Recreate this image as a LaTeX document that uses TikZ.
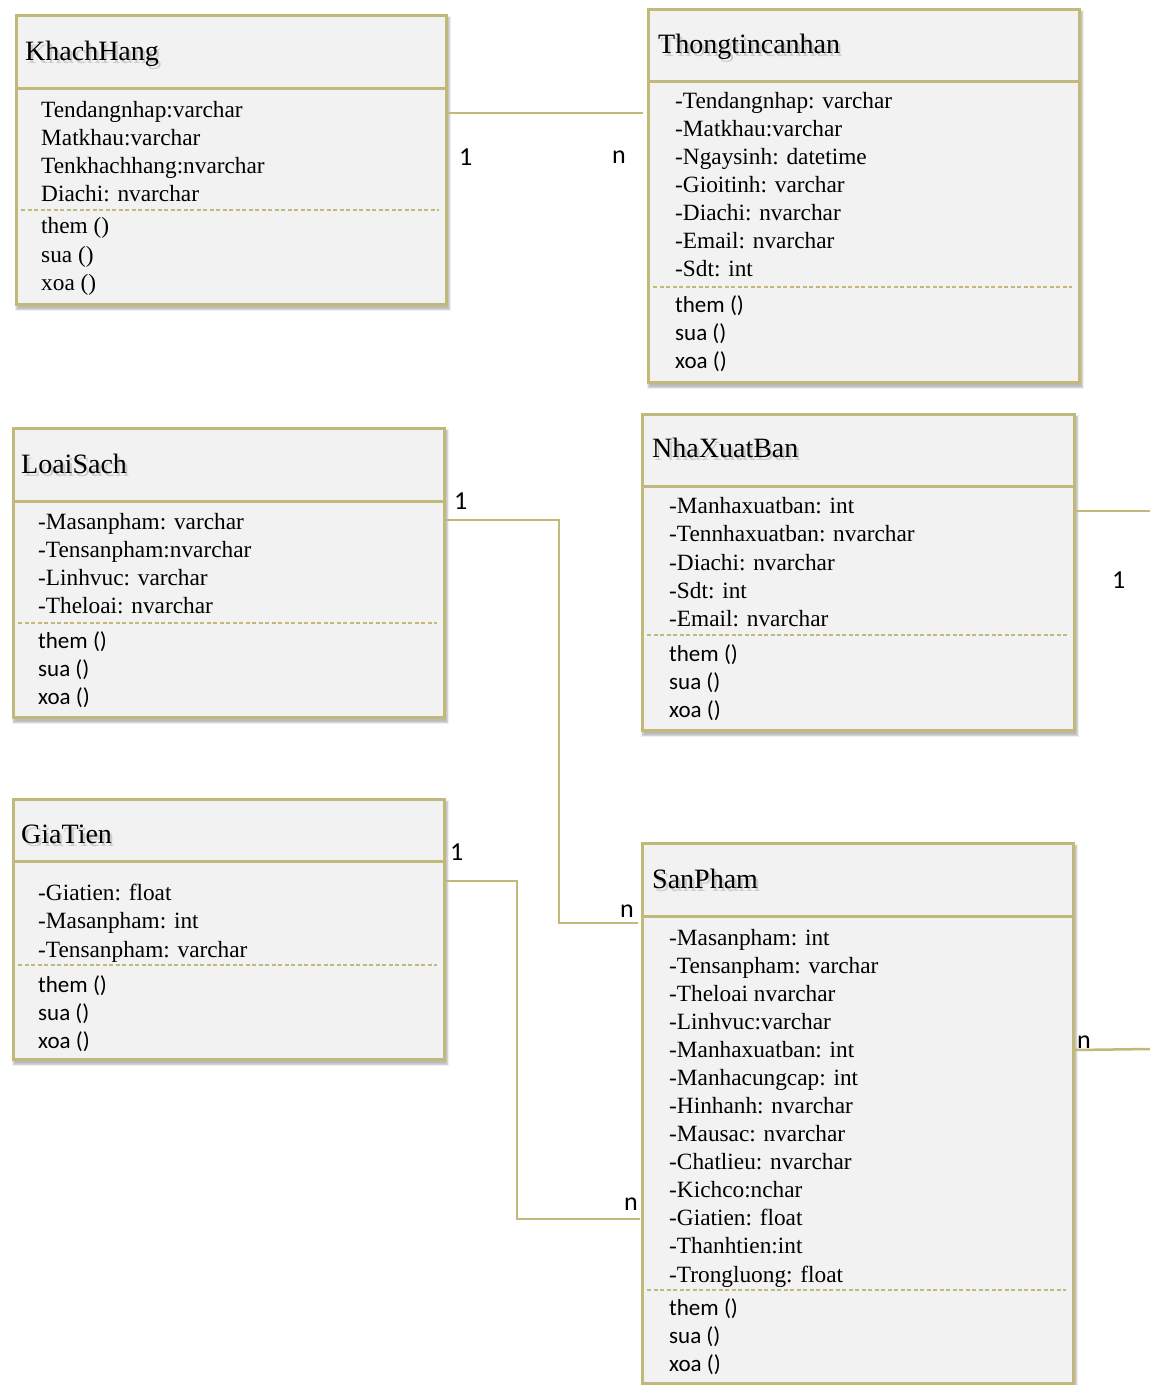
\documentclass[tikz,border=0pt]{standalone}
\usepackage{fontspec}
\setmainfont{Liberation Serif}
\newfontfamily\methodfont{Carlito}
\usetikzlibrary{calc}

\definecolor{umlborder}{RGB}{192,185,122}
\definecolor{umlfill}{RGB}{242,242,242}
\definecolor{titleshade}{RGB}{205,205,205}

\tikzset{
  classbox/.style={draw=umlborder, fill=umlfill, line width=3pt, rectangle,
    inner sep=0pt, anchor=north west},
  sepline/.style={draw=umlborder, line width=3pt},
  dashsep/.style={draw=umlborder, line width=1.7pt, dash pattern=on 4pt off 2.5pt},
  classtitle/.style={anchor=base west, inner sep=0pt, font=\fontsize{28}{32}\selectfont},
  attr/.style={anchor=base west, inner sep=0pt, font=\fontsize{23.3}{28}\selectfont},
  meth/.style={anchor=base west, inner sep=0pt, font=\methodfont\fontsize{23}{28}\selectfont},
  mult/.style={anchor=base west, inner sep=0pt, font=\methodfont\fontsize{26}{30}\selectfont},
  conn/.style={draw=umlborder, line width=2.5pt},
}

% class box: name, x, y, width, height, header line y, dashed line y
\newcommand\umlclass[7]{%
  \foreach \s in {0,1,2,3,4}{%
    \fill[black, opacity=0.06] (#2+3-\s*0.8, #3+5-\s*0.8) rectangle (#2+#4+3+\s*0.8, #3+#5+5+\s*0.8);
  }
  \node[classbox, minimum width=#4, minimum height=#5] (#1) at (#2,#3) {};
  \draw[sepline] (#2,#6) -- (#2+#4,#6);
  \draw[dashsep] (#2+6,#7) -- (#2+#4-6,#7);
}

% class title, set over a soft grey copy of itself
\newcommand\umltitle[4]{%
  \node[classtitle] (#1-t) at (#2,#3)
    {\makebox[0pt][l]{\hspace*{2.5pt}\raisebox{-3pt}{\textcolor{titleshade}{#4}}}#4};
}

\begin{document}
\begin{tikzpicture}[x=1pt, y=-1pt]
\fill[white] (0,0) rectangle (1150,1385);
\useasboundingbox (0,0) rectangle (1150,1385);

% ---------------- KhachHang ----------------
\umlclass{kh}{15}{14}{430}{289}{88}{210}
\umltitle{kh}{25}{60}{KhachHang}
\node[attr] (kh-a1) at (41,117) {Tendangnhap:varchar};
\node[attr] (kh-a2) at (41,145) {Matkhau:varchar};
\node[attr] (kh-a3) at (41,173) {Tenkhachhang:nvarchar};
\node[attr] (kh-a4) at (41,201) {Diachi: nvarchar};
\node[attr] (kh-m1) at (41,233) {them ()};
\node[attr] (kh-m2) at (41,262) {sua ()};
\node[attr] (kh-m3) at (41,290) {xoa ()};

% ---------------- Thongtincanhan ----------------
\umlclass{tt}{647}{8}{431}{373}{81}{287}
\umltitle{tt}{658}{53}{Thongtincanhan}
\node[attr] (tt-a1) at (675,108) {-Tendangnhap: varchar};
\node[attr] (tt-a2) at (675,136) {-Matkhau:varchar};
\node[attr] (tt-a3) at (675,164) {-Ngaysinh: datetime};
\node[attr] (tt-a4) at (675,192) {-Gioitinh: varchar};
\node[attr] (tt-a5) at (675,220) {-Diachi: nvarchar};
\node[attr] (tt-a6) at (675,248) {-Email: nvarchar};
\node[attr] (tt-a7) at (675,276) {-Sdt: int};
\node[meth] (tt-m1) at (675,312) {them ()};
\node[meth] (tt-m2) at (675,340) {sua ()};
\node[meth] (tt-m3) at (675,368) {xoa ()};

% ---------------- LoaiSach ----------------
\umlclass{ls}{12}{427}{431}{289}{501}{623}
\umltitle{ls}{21}{473}{LoaiSach}
\node[attr] (ls-a1) at (38,529) {-Masanpham: varchar};
\node[attr] (ls-a2) at (38,557) {-Tensanpham:nvarchar};
\node[attr] (ls-a3) at (38,585) {-Linhvuc: varchar};
\node[attr] (ls-a4) at (38,613) {-Theloai: nvarchar};
\node[meth] (ls-m1) at (38,648) {them ()};
\node[meth] (ls-m2) at (38,676) {sua ()};
\node[meth] (ls-m3) at (38,704) {xoa ()};

% ---------------- NhaXuatBan ----------------
\umlclass{nxb}{641}{413}{432}{316}{486}{635}
\umltitle{nxb}{652}{457}{NhaXuatBan}
\node[attr] (nxb-a1) at (669,513) {-Manhaxuatban: int};
\node[attr] (nxb-a2) at (669,541) {-Tennhaxuatban: nvarchar};
\node[attr] (nxb-a3) at (669,570) {-Diachi: nvarchar};
\node[attr] (nxb-a4) at (669,598) {-Sdt: int};
\node[attr] (nxb-a5) at (669,626) {-Email: nvarchar};
\node[meth] (nxb-m1) at (669,661) {them ()};
\node[meth] (nxb-m2) at (669,689) {sua ()};
\node[meth] (nxb-m3) at (669,717) {xoa ()};

% ---------------- GiaTien ----------------
\umlclass{gt}{12}{798}{431}{260}{861}{965}
\umltitle{gt}{21}{843}{GiaTien}
\node[attr] (gt-a1) at (38,900) {-Giatien: float};
\node[attr] (gt-a2) at (38,928) {-Masanpham: int};
\node[attr] (gt-a3) at (38,957) {-Tensanpham: varchar};
\node[meth] (gt-m1) at (38,992) {them ()};
\node[meth] (gt-m2) at (38,1020) {sua ()};
\node[meth] (gt-m3) at (38,1048) {xoa ()};

% ---------------- SanPham ----------------
\umlclass{sp}{641}{842}{431}{540}{916}{1290}
\umltitle{sp}{652}{888}{SanPham}
\node[attr] (sp-a1)  at (669,945)  {-Masanpham: int};
\node[attr] (sp-a2)  at (669,973)  {-Tensanpham: varchar};
\node[attr] (sp-a3)  at (669,1001) {-Theloai nvarchar};
\node[attr] (sp-a4)  at (669,1029) {-Linhvuc:varchar};
\node[attr] (sp-a5)  at (669,1057) {-Manhaxuatban: int};
\node[attr] (sp-a6)  at (669,1085) {-Manhacungcap: int};
\node[attr] (sp-a7)  at (669,1113) {-Hinhanh: nvarchar};
\node[attr] (sp-a8)  at (669,1141) {-Mausac: nvarchar};
\node[attr] (sp-a9)  at (669,1169) {-Chatlieu: nvarchar};
\node[attr] (sp-a10) at (669,1197) {-Kichco:nchar};
\node[attr] (sp-a11) at (669,1225) {-Giatien: float};
\node[attr] (sp-a12) at (669,1253) {-Thanhtien:int};
\node[attr] (sp-a13) at (669,1282) {-Trongluong: float};
\node[meth] (sp-m1) at (669,1315) {them ()};
\node[meth] (sp-m2) at (669,1343) {sua ()};
\node[meth] (sp-m3) at (669,1371) {xoa ()};

% ---------------- associations ----------------
\coordinate (nxb-out) at (1150,511);
\coordinate (sp-out) at (1150,1049);

\draw[conn, shorten >=4pt] (kh.east |- 0,113) -- (tt.west |- 0,113);
\draw[conn, shorten >=3pt] (ls.east |- 0,520) -- (559,520) |- (sp.west |- 0,923);
\draw[conn, shorten >=1pt] (gt.east |- 0,881) -- (517,881) |- (sp.west |- 0,1219);
\draw[conn] (nxb.east |- 0,511) -- (nxb-out);
\draw[conn] (sp.east |- 0,1050) -- (sp-out);

% multiplicities
\node[mult] (m-kh)  at (459,165)  {1};
\node[mult] (m-tt)  at (612,163)  {n};
\node[mult] (m-ls)  at (454,509)  {1};
\node[mult] (m-sp1) at (620,917)  {n};
\node[mult] (m-gt)  at (450,860)  {1};
\node[mult] (m-sp2) at (624,1210) {n};
\node[mult] (m-nxb) at (1112,588) {1};
\node[mult] (m-sp3) at (1077,1048) {n};
\end{tikzpicture}
\end{document}
